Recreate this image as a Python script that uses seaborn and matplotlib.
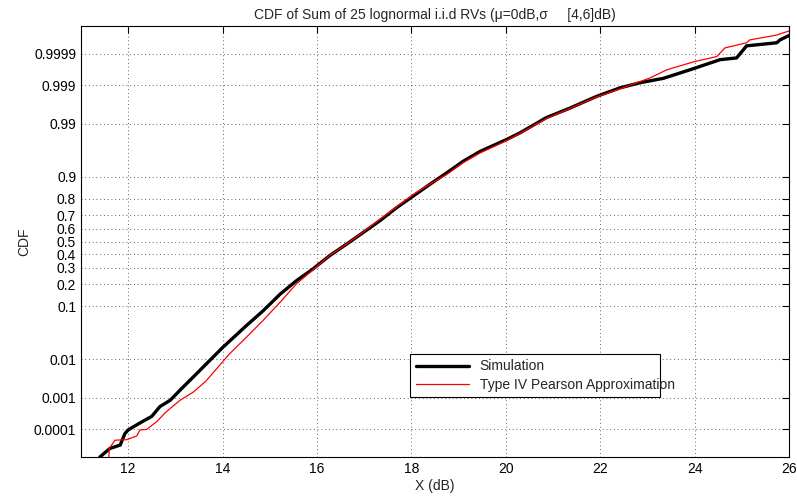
import matplotlib
matplotlib.use("Agg")
import matplotlib.pyplot as plt
from matplotlib.ticker import FixedLocator, NullLocator
from statistics import NormalDist
import numpy as np
import pandas as pd
import seaborn as sns

# values (x in dB, CDF)
sim_x = [11.40, 11.61, 11.83, 11.93, 12.00, 12.25, 12.50, 12.67, 12.89, 13.10,
         13.33, 14.01, 14.51, 14.86, 15.22, 15.56, 15.92, 16.27, 16.63, 16.98,
         17.33, 17.69, 18.04, 18.39, 18.75, 19.10, 19.45, 20.02, 20.30, 20.86,
         21.36, 21.92, 22.42, 22.84, 23.34, 23.90, 24.54, 24.89, 25.03, 25.10,
         25.74, 25.81, 26.02]
sim_cdf = [1.0e-5, 2.1e-5, 2.8e-5, 7.2e-5, 9.6e-5, 1.65e-4, 2.7e-4, 5.4e-4, 8.4e-4, 1.64e-3,
           3.2e-3, 0.0183, 0.0485, 0.0853, 0.149, 0.218, 0.295, 0.390, 0.480, 0.571,
           0.659, 0.749, 0.816, 0.871, 0.913, 0.944, 0.9625, 0.9783, 0.9842, 0.9929,
           0.99586, 0.99795, 0.99882, 0.99916, 0.99938, 0.99966, 0.99984, 0.99986, 0.999925, 0.999946,
           0.999958, 0.999967, 0.999978]

pearson_x = [11.58, 11.60, 11.72, 11.97, 12.18, 12.25, 12.39, 12.60, 12.81, 13.10,
             13.38, 13.65, 14.15, 14.51, 14.86, 15.22, 15.56, 15.98, 16.27, 16.63,
             16.98, 17.33, 17.69, 18.04, 18.39, 18.75, 19.10, 19.45, 20.02, 20.30,
             20.86, 21.36, 21.92, 22.48, 23.06, 23.41, 23.97, 24.47, 24.64, 25.10,
             25.17, 25.74, 26.02]
pearson_cdf = [5e-6, 2.1e-5, 4.2e-5, 4.4e-5, 5.9e-5, 9.6e-5, 1.0e-4, 1.8e-4, 3.8e-4, 8.4e-4,
               1.44e-3, 2.9e-3, 0.0132, 0.0294, 0.0594, 0.115, 0.200, 0.305, 0.392, 0.480,
               0.574, 0.670, 0.754, 0.824, 0.872, 0.908, 0.941, 0.960, 0.9772, 0.9838,
               0.9925, 0.99578, 0.99788, 0.99882, 0.99940, 0.99966, 0.99981, 0.999874, 0.999936,
               0.999958, 0.999967, 0.999978, 0.999985]

y_ticks = [0.0001, 0.001, 0.01, 0.1, 0.2, 0.3, 0.4, 0.5, 0.6, 0.7, 0.8, 0.9, 0.99, 0.999, 0.9999]
y_labels = ["0.0001", "0.001", "0.01", "0.1", "0.2", "0.3", "0.4", "0.5", "0.6", "0.7",
            "0.8", "0.9", "0.99", "0.999", "0.9999"]
x_ticks = [12, 14, 16, 18, 20, 22, 24, 26]

df = pd.concat([
    pd.DataFrame({"x": sim_x, "cdf": sim_cdf, "series": "Simulation"}),
    pd.DataFrame({"x": pearson_x, "cdf": pearson_cdf, "series": "Type IV Pearson Approximation"}),
])

nd = NormalDist()
_ppf = np.vectorize(nd.inv_cdf, otypes=[float])
_cdf = np.vectorize(nd.cdf, otypes=[float])


def probit(p):
    return _ppf(np.clip(np.asarray(p, dtype=float), 1e-15, 1 - 1e-15))


def inv_probit(z):
    return _cdf(np.asarray(z, dtype=float))


sns.set_style("white")
plt.rcParams["font.family"] = ["Liberation Sans", "DejaVu Sans"]

fig = plt.figure(figsize=(7.97, 5.01), dpi=100)
ax = fig.add_axes([81 / 797, 1 - 457 / 501, 708 / 797, 431 / 501])

sns.lineplot(data=df, x="x", y="cdf", hue="series", size="series",
             palette={"Simulation": "black", "Type IV Pearson Approximation": "red"},
             sizes={"Simulation": 2.4, "Type IV Pearson Approximation": 0.9},
             estimator=None, sort=False, ax=ax)

ax.set_yscale("function", functions=(probit, inv_probit))
ax.set_ylim(1e-5, 1 - 1e-5)
ax.set_xlim(11, 26)
ax.yaxis.set_major_locator(FixedLocator(y_ticks))
ax.yaxis.set_minor_locator(NullLocator())
ax.set_yticks(y_ticks)
ax.set_yticklabels(y_labels)
ax.set_xticks(x_ticks)

ax.grid(True, linestyle=(0, (1, 3.5)), color="0.2", linewidth=0.6)
ax.tick_params(direction="in", length=5, width=0.8, top=True, right=True,
               labelsize=10, colors="black")
for s in ax.spines.values():
    s.set_color("black")
    s.set_linewidth(0.8)

ax.set_title("CDF of Sum of 25 lognormal i.i.d RVs (\u03bc=0dB,\u03c3     [4,6]dB)",
             fontsize=10, pad=5)
ax.set_xlabel("X (dB)", fontsize=10, labelpad=2)
ax.set_ylabel("CDF", fontsize=10, labelpad=2)

leg = ax.legend(loc="lower left", bbox_to_anchor=(0.465, 0.139, 0.353, 0.104),
                mode="expand", fontsize=10, frameon=True, fancybox=False,
                handlelength=3.8, borderpad=0.4, labelspacing=0.3, borderaxespad=0)
leg.get_frame().set_edgecolor("black")
leg.get_frame().set_linewidth(0.8)
leg.get_frame().set_alpha(1)

fig.savefig("out.png", dpi=100)
